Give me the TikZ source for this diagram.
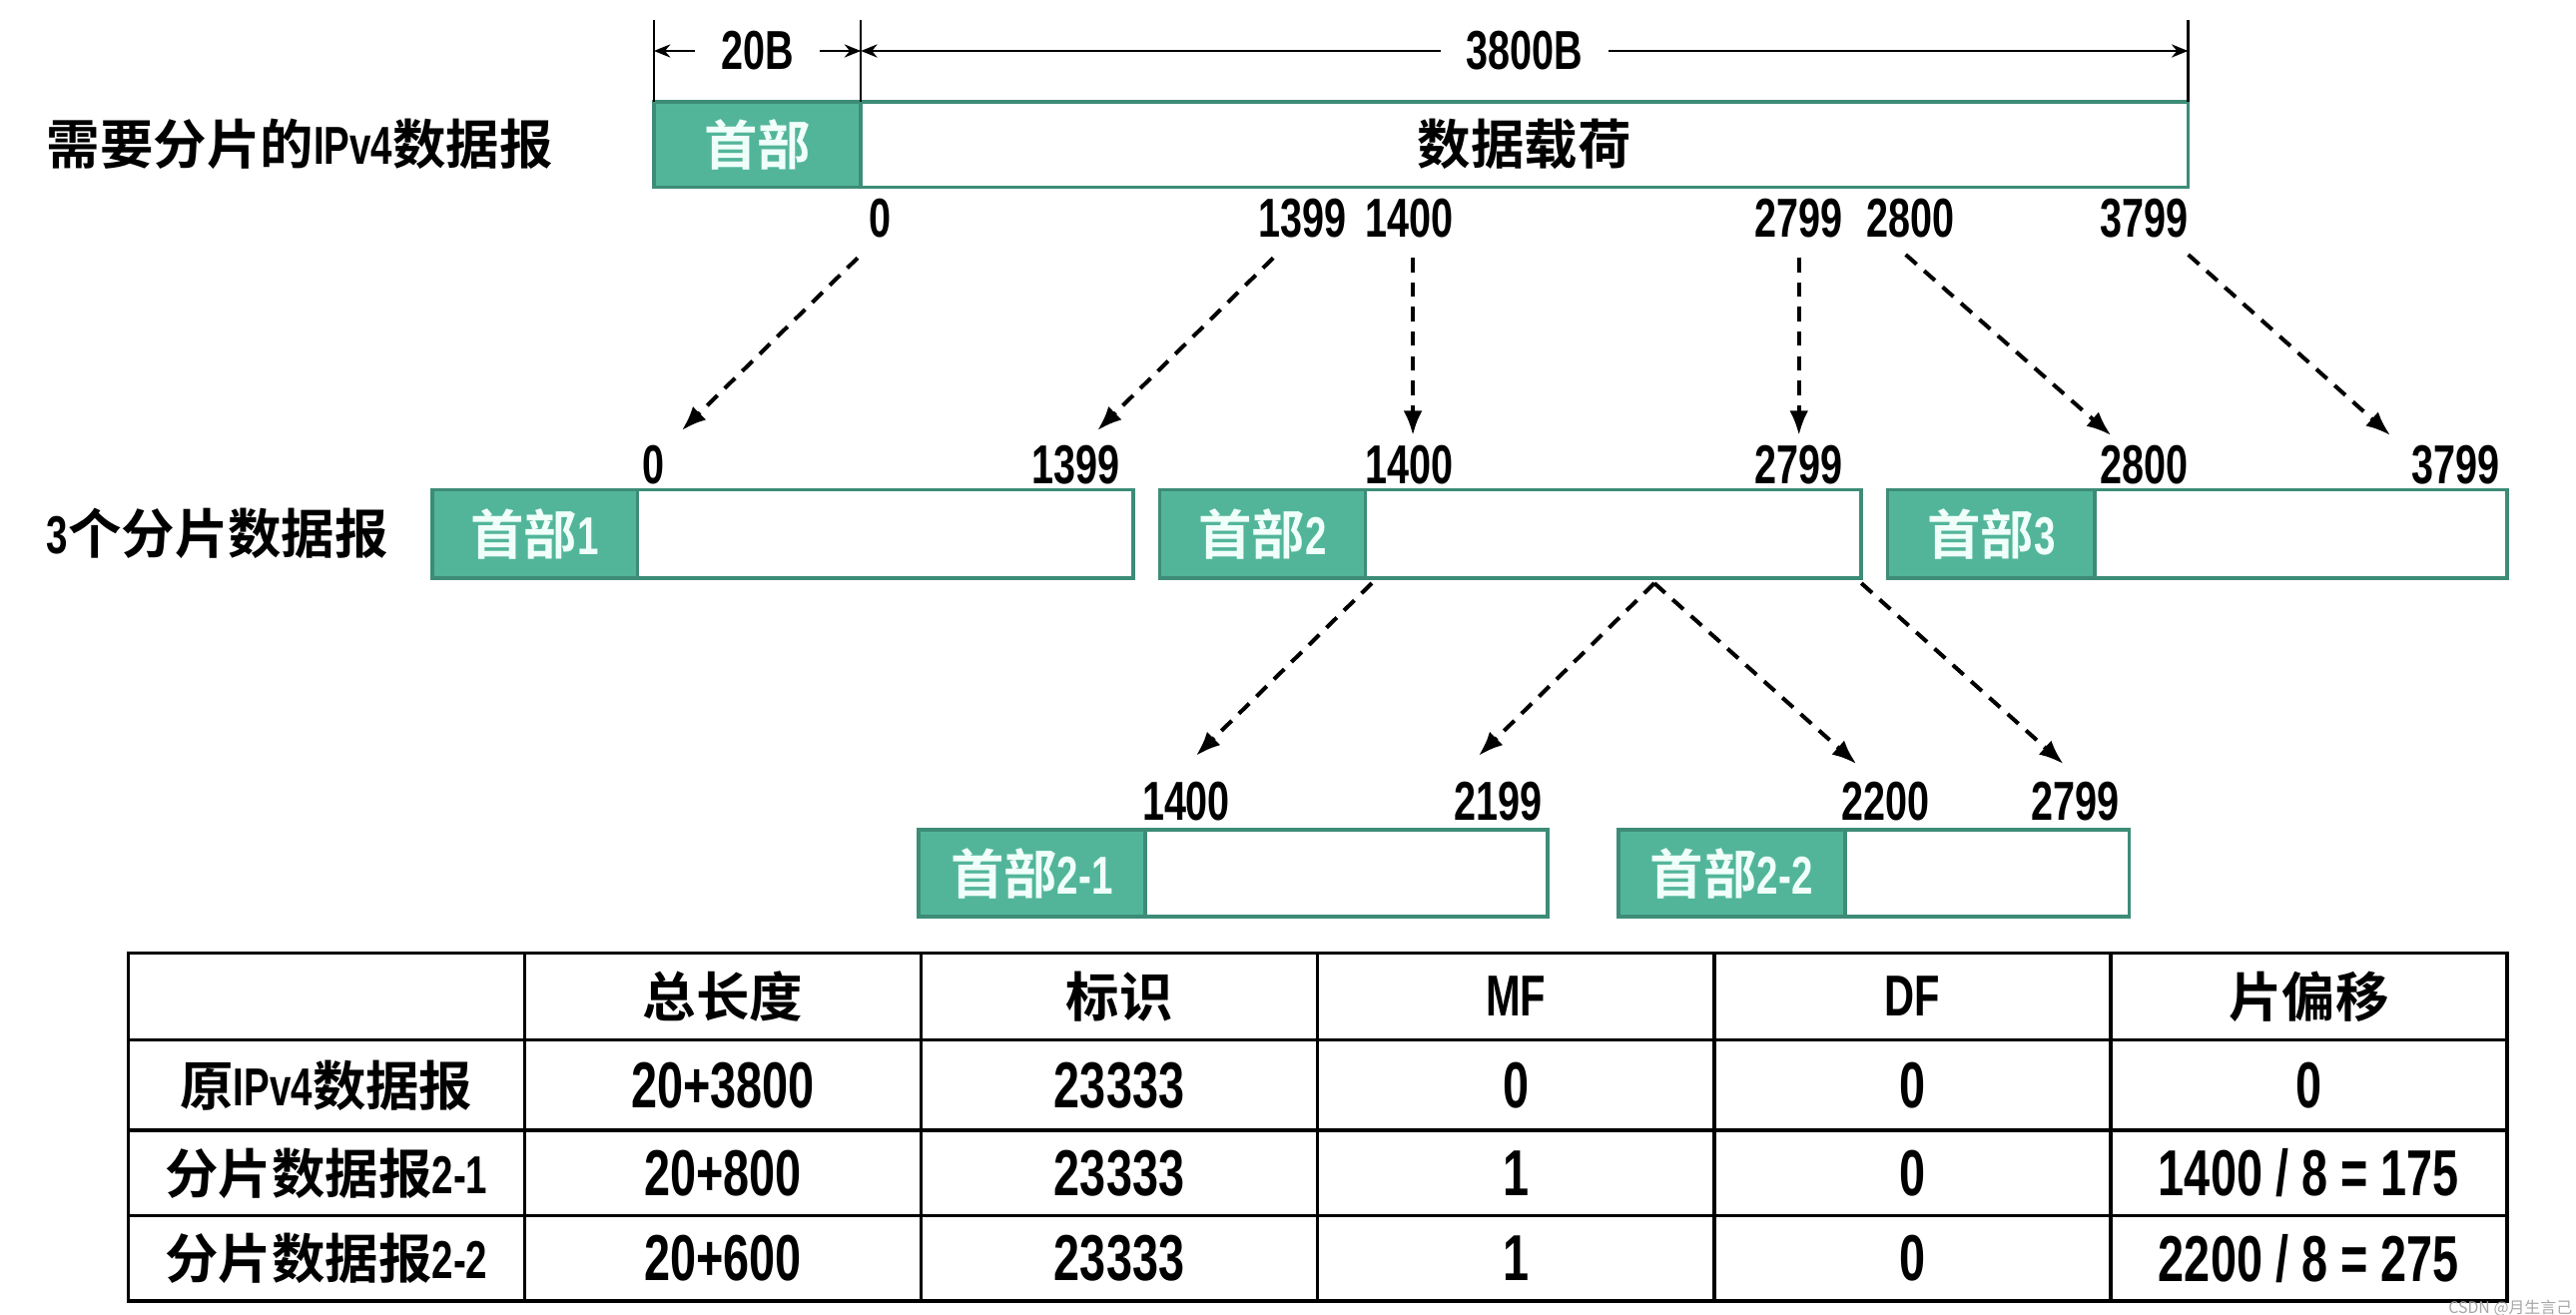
\documentclass[tikz,border=0pt]{standalone}
\usepackage{fontspec}
\setmainfont{Noto Sans CJK SC}[BoldFont={Noto Sans CJK SC Bold}]
\newfontfamily\numfont{Liberation Sans}[FakeStretch=0.72]
\usetikzlibrary{arrows.meta,positioning}
\definecolor{hdrfill}{HTML}{52B59A}
\definecolor{hdrline}{HTML}{3D8C77}
\definecolor{hdrtext}{HTML}{F0FFF9}
\newcommand{\digs}[1]{{\numfont\bfseries #1}}
\newcommand{\tdigs}[1]{{\fontsize{22.5}{26}\selectfont\numfont\bfseries #1}}
\newcommand{\flag}[1]{{\fontsize{20}{24}\selectfont\numfont #1}}
\tikzset{
  hdrbox/.style={rectangle, draw=hdrline, fill=hdrfill, text=hdrtext, line width=1.2pt,
                 inner sep=0pt, outer sep=0pt, font=\fontsize{18.5}{22}\selectfont\bfseries},
  paybox/.style={rectangle, draw=hdrline, fill=white, line width=1.2pt,
                 inner sep=0pt, outer sep=0pt, font=\fontsize{18.5}{22}\selectfont\bfseries},
  sidelbl/.style={anchor=west, inner sep=0pt, font=\fontsize{18.5}{22}\selectfont\bfseries},
  offlbl/.style={inner sep=1pt, font=\fontsize{19}{22}\selectfont\numfont\bfseries},
  dimarr/.style={{Stealth[length=2mm,width=1.6mm]}-{Stealth[length=2mm,width=1.6mm]}, line width=0.8pt},
  cutarr/.style={-{Latex[length=3mm,width=2.3mm]}, line width=1.4pt, dash pattern=on 5pt off 3.5pt},
  cell/.style={rectangle, draw, line width=1.2pt, minimum width=4.826cm, inner sep=0pt,
               font=\fontsize{18.5}{22}\selectfont\bfseries},
}

\begin{document}
\begin{tikzpicture}[x=0.02cm, y=-0.02cm]
  \useasboundingbox (0,0) rectangle (1568,800);

  % original datagram
  \node[sidelbl] (t0) at (28,88) {需要分片的\digs{IPv4}数据报};
  \node[hdrbox, minimum width=2.52cm, minimum height=1.04cm] (h0) at (461,88) {首部};
  \node[paybox, minimum width=16.16cm, minimum height=1.04cm, right=0pt of h0] (p0) {数据载荷};

  % size marks
  \coordinate (dimy) at (0,31);
  \draw[line width=0.8pt] (h0.north west) -- ++(0,-50);
  \draw[line width=0.8pt] (h0.north east) -- ++(0,-50);
  \draw[line width=0.8pt] (p0.north east) -- ++(0,-50);
  \draw[dimarr] (h0.north west |- dimy) -- (h0.north east |- dimy)
        node[midway, fill=white, offlbl, inner xsep=9pt] (s20) {20B};
  \draw[dimarr] (p0.north west |- dimy) -- (p0.north east |- dimy)
        node[midway, fill=white, offlbl, inner xsep=9pt] (s3800) {3800B};

  % offsets in the original
  \node[offlbl] (o0)    at (536,133)  {0};
  \node[offlbl] (o1399) at (793,133)  {1399};
  \node[offlbl] (o1400) at (858,133)  {1400};
  \node[offlbl] (o2799) at (1095,133) {2799};
  \node[offlbl] (o2800) at (1163,133) {2800};
  \node[offlbl] (o3799) at (1305,133) {3799};

  % three fragments
  \node[sidelbl] (t1) at (28,325) {\digs{3}个分片数据报};
  \node[hdrbox, minimum width=2.5cm, minimum height=1.08cm] (h1) at (325.5,325) {首部\digs{1}};
  \node[paybox, minimum width=6.04cm, minimum height=1.08cm, right=0pt of h1] (p1) {};
  \node[hdrbox, minimum width=2.5cm, minimum height=1.08cm] (h2) at (768.5,325) {首部\digs{2}};
  \node[paybox, minimum width=6.04cm, minimum height=1.08cm, right=0pt of h2] (p2) {};
  \node[hdrbox, minimum width=2.52cm, minimum height=1.08cm] (h3) at (1212,325) {首部\digs{3}};
  \node[paybox, minimum width=5.02cm, minimum height=1.08cm, right=0pt of h3] (p3) {};

  \node[offlbl] (f0)    at (398,283)  {0};
  \node[offlbl] (f1399) at (655,283)  {1399};
  \node[offlbl] (f1400) at (858,283)  {1400};
  \node[offlbl] (f2799) at (1095,283) {2799};
  \node[offlbl] (f2800) at (1305,283) {2800};
  \node[offlbl] (f3799) at (1495,283) {3799};

  % fragment 2 split again
  \node[hdrbox, minimum width=2.76cm, minimum height=1.06cm] (h21) at (628,531.5) {首部\digs{2-1}};
  \node[paybox, minimum width=4.9cm, minimum height=1.06cm, right=0pt of h21] (p21) {};
  \node[hdrbox, minimum width=2.76cm, minimum height=1.06cm] (h22) at (1054,531.5) {首部\digs{2-2}};
  \node[paybox, minimum width=3.46cm, minimum height=1.06cm, right=0pt of h22] (p22) {};

  \node[offlbl] (g1400) at (722,488)  {1400};
  \node[offlbl] (g2199) at (912,488)  {2199};
  \node[offlbl] (g2200) at (1148,488) {2200};
  \node[offlbl] (g2799) at (1263,488) {2799};

  % arrow ends
  \coordinate (a1s) at (522,157);  \coordinate (a1e) at (415,262);
  \coordinate (a2s) at (775,157);  \coordinate (a2e) at (668,262);
  \coordinate (a3s) at (860,157);  \coordinate (a3e) at (860,265);
  \coordinate (a4s) at (1095,157); \coordinate (a4e) at (1095,265);
  \coordinate (a5s) at (1160,155); \coordinate (a5e) at (1285,265);
  \coordinate (a6s) at (1332,155); \coordinate (a6e) at (1455,265);
  \coordinate (b1s) at (835,355);  \coordinate (b1e) at (728,460);
  \coordinate (b2s) at (1007,355); \coordinate (b2e) at (900,460);
  \coordinate (b3e) at (1130,465);
  \coordinate (b4s) at (1133,355); \coordinate (b4e) at (1256,465);

  \draw[cutarr] (a1s) -- (a1e);
  \draw[cutarr] (a2s) -- (a2e);
  \draw[cutarr] (a3s) -- (a3e);
  \draw[cutarr] (a4s) -- (a4e);
  \draw[cutarr] (a5s) -- (a5e);
  \draw[cutarr] (a6s) -- (a6e);
  \draw[cutarr] (b1s) -- (b1e);
  \draw[cutarr] (b2s) -- (b2e);
  \draw[cutarr] (b2s) -- (b3e);
  \draw[cutarr] (b4s) -- (b4e);

  % header fields table
  \foreach \txt [count=\i] in {{}, 总长度, 标识, \flag{MF}, \flag{DF}, 片偏移}
    \node[cell, minimum height=1.06cm] (r0c\i) at ({78+241.33*(\i-0.5)},606.5) {\txt};
  \foreach \txt [count=\i] in {原\digs{IPv4}数据报, \tdigs{20+3800}, \tdigs{23333}, \tdigs{0}, \tdigs{0}, \tdigs{0}}
    \node[cell, minimum height=1.1cm] (r1c\i) at ({78+241.33*(\i-0.5)},660.5) {\txt};
  \foreach \txt [count=\i] in {分片数据报\digs{2-1}, \tdigs{20+800}, \tdigs{23333}, \tdigs{1}, \tdigs{0}, \tdigs{1400 / 8 = 175}}
    \node[cell, minimum height=1.04cm] (r2c\i) at ({78+241.33*(\i-0.5)},714) {\txt};
  \foreach \txt [count=\i] in {分片数据报\digs{2-2}, \tdigs{20+600}, \tdigs{23333}, \tdigs{1}, \tdigs{0}, \tdigs{2200 / 8 = 275}}
    \node[cell, minimum height=1.04cm] (r3c\i) at ({78+241.33*(\i-0.5)},766) {\txt};

  \node[font=\fontsize{5.5}{6}\selectfont, text=black!35, inner sep=0pt, anchor=east] (wm) at (1566,796.5) {CSDN @月生言己};
\end{tikzpicture}
\end{document}
